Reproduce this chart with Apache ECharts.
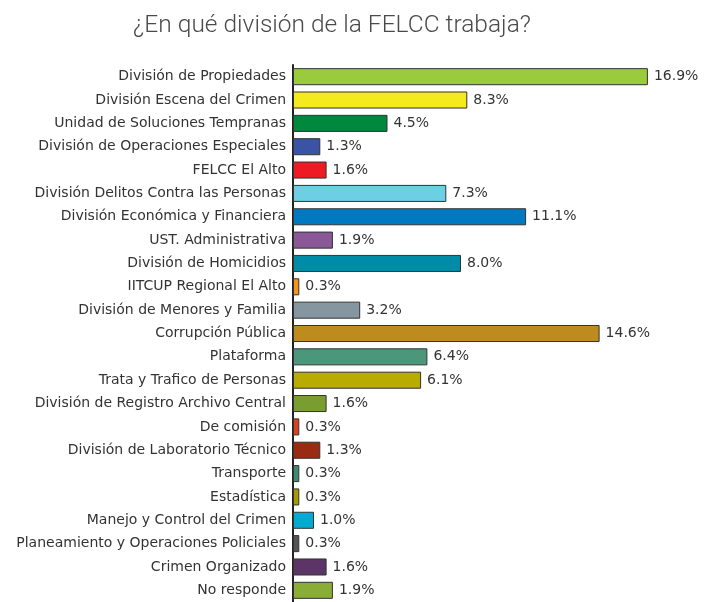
<!DOCTYPE html>
<html><head><meta charset="utf-8">
<script src="https://cdn.jsdelivr.net/npm/echarts@6/dist/echarts.min.js"></script>
<style>html,body{margin:0;padding:0;background:#fff}#c{width:704px;height:602px}</style>
</head><body><div id="c"></div>
<script>
const titleText = '¿En qué división de la FELCC trabaja?';
const categories = [
  'División de Propiedades','División Escena del Crimen','Unidad de Soluciones Tempranas',
  'División de Operaciones Especiales','FELCC El Alto','División Delitos Contra las Personas',
  'División Económica y Financiera','UST. Administrativa','División de Homicidios',
  'IITCUP Regional El Alto','División de Menores y Familia','Corrupción Pública','Plataforma',
  'Trata y Trafico de Personas','División de Registro Archivo Central','De comisión',
  'División de Laboratorio Técnico','Transporte','Estadística','Manejo y Control del Crimen',
  'Planeamiento y Operaciones Policiales','Crimen Organizado','No responde'
];
const values = [16.9,8.3,4.5,1.3,1.6,7.3,11.1,1.9,8.0,0.3,3.2,14.6,6.4,6.1,1.6,0.3,1.3,0.3,0.3,1.0,0.3,1.6,1.9];
const barColors = ['#9acb3c','#f5ea1e','#00883f','#3a53a4','#ed1c24','#6dcfe3','#0079c1','#8a5797',
  '#008ba6','#f7941d','#8696a0','#be8b1e','#4a977c','#b9ac00','#7a9d32','#d9401e','#9b2a12',
  '#3b8c70','#a99800','#00aad0','#555555','#5c3566','#8aad38'];

const chart = echarts.init(document.getElementById('c'), null, {renderer:'canvas'});
chart.setOption({
  animation:false,
  title:{text:titleText,left:327,top:8,textAlign:'center',
    textStyle:{fontFamily:'Roboto, sans-serif',fontWeight:300,fontSize:24.5,color:'#4a4a4a'}},
  grid:{left:293,top:65,width:399,height:540,containLabel:false},
  xAxis:{type:'value',min:0,max:19,show:false},
  yAxis:{type:'category',data:categories,inverse:true,
    axisLine:{show:true,lineStyle:{color:'#222',width:2}},
    axisTick:{show:false},
    axisLabel:{margin:7,fontFamily:'DejaVu Sans',fontSize:14,color:'#333'}},
  series:[{type:'bar',barCategoryGap:'27%',
    data:values.map((v,i)=>({value:v,itemStyle:{color:barColors[i]}})),
    itemStyle:{borderColor:'#333',borderWidth:1},
    label:{show:true,position:'right',distance:6,fontFamily:'DejaVu Sans',fontSize:14,color:'#333',
      formatter:p=>p.value.toFixed(1)+'%'}}]
});
</script></body></html>
